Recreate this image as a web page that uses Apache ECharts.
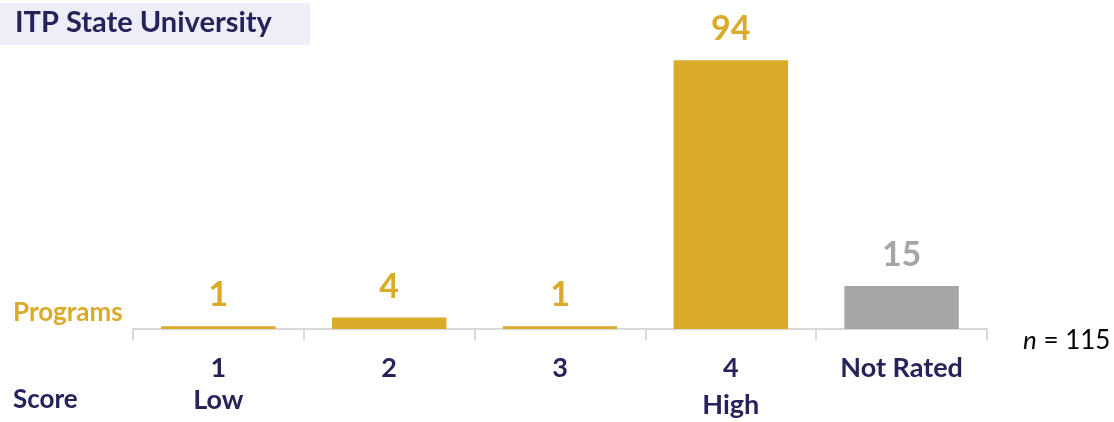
<!DOCTYPE html>
<html>
<head>
<meta charset="utf-8">
<script src="https://cdn.jsdelivr.net/npm/echarts@6/dist/echarts.min.js"></script>
<style>html,body{margin:0;padding:0;background:#fff;}#c{width:1114px;height:422px;}</style>
</head>
<body>
<div id="c"></div>
<script>
const categories = ['1', '2', '3', '4', 'Not Rated'];
const subLabels = ['Low', '', '', 'High', ''];
const values = [1, 4, 1, 94, 15];
const barColors = ['#DAAA29', '#DAAA29', '#DAAA29', '#DAAA29', '#A6A6A6'];
const titleText = 'ITP State University';
const seriesLabel = 'Programs';
const axisLabelText = 'Score';
const nText = '115';

const FONT = 'Lato, "Open Sans", sans-serif';
const NAVY = '#25235A';

const chart = echarts.init(document.getElementById('c'));
chart.setOption({
  animation: false,
  backgroundColor: '#fff',
  grid: { left: 133, right: 127, top: 43, bottom: 93 },
  xAxis: {
    type: 'category',
    data: categories,
    boundaryGap: true,
    axisLine: { lineStyle: { color: '#D9D9D9', width: 2 } },
    axisTick: { show: true, length: 11, lineStyle: { color: '#D9D9D9', width: 2 } },
    axisLabel: {
      margin: 24,
      interval: 0,
      formatter: function (v, i) {
        const s = subLabels[i];
        if (!s) return '{a|' + v + '}';
        return '{a|' + v + '}\n{' + (s === 'High' ? 'h' : 'l') + '|' + s + '}';
      },
      rich: {
        a: { fontFamily: FONT, fontWeight: 'bold', fontSize: 27, color: NAVY, lineHeight: 30 },
        l: { fontFamily: FONT, fontWeight: 'bold', fontSize: 27, color: NAVY, lineHeight: 34 },
        h: { fontFamily: FONT, fontWeight: 'bold', fontSize: 27, color: NAVY, lineHeight: 44 }
      }
    }
  },
  yAxis: {
    type: 'value', min: 0, max: 100, show: false,
    splitLine: { show: false }
  },
  series: [{
    type: 'bar',
    barWidth: '67%',
    data: values.map((v, i) => ({ value: v, itemStyle: { color: barColors[i] }, label: { color: barColors[i] } })),
    label: {
      show: true, position: 'top', distance: 14,
      fontFamily: FONT, fontWeight: 'bold', fontSize: 34
    }
  }],
  graphic: [
    { type: 'rect', left: 0, top: 3, shape: { width: 310, height: 42 }, style: { fill: '#EEEEF8' }, silent: true },
    { type: 'text', left: 15, top: 8, style: { text: titleText, font: 'bold 29px ' + FONT, fill: NAVY } },
    { type: 'text', left: 13, top: 300, style: { text: seriesLabel, font: 'bold 26px ' + FONT, fill: '#DAAA29' } },
    { type: 'text', left: 13, top: 387, style: { text: axisLabelText, font: 'bold 26px ' + FONT, fill: NAVY } },
    { type: 'text', left: 1023, top: 328, style: {
        text: '{i|n} = ' + nText,
        font: '26px ' + FONT, fill: '#000',
        rich: { i: { fontStyle: 'italic', fontSize: 26, fontFamily: FONT, fill: '#000' } }
      } }
  ]
});
</script>
</body>
</html>
